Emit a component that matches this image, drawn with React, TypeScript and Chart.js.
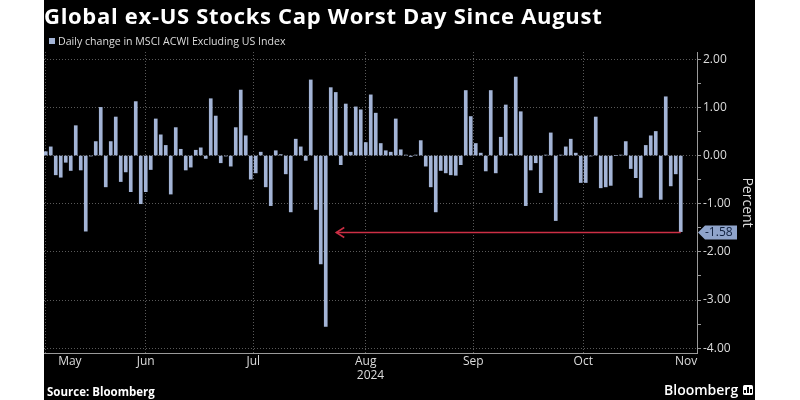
import React, { useEffect, useRef } from "react";
import { Chart, registerables } from "chart.js";

Chart.register(...registerables);

// ---- Data (trading days, May 20 – Nov 13, 2024) ----
const monthNames = ["May", "Jun", "Jul", "Aug", "Sep", "Oct", "Nov"];
const yearLabel = "2024";

const mayDays = [20, 21, 22, 23, 24, 27, 28, 29, 30, 31];
const junDays = [3, 4, 5, 6, 7, 10, 11, 12, 13, 14, 17, 18, 19, 20, 21, 24, 25, 26, 27, 28];
const julDays = [1, 2, 3, 4, 5, 8, 9, 10, 11, 12, 15, 16, 17, 18, 19, 22, 23, 24, 25, 26, 29, 30, 31];
const augDays = [1, 2, 5, 6, 7, 8, 9, 12, 13, 14, 15, 16, 19, 20, 21, 22, 23, 26, 27, 28, 29, 30];
const sepDays = [2, 3, 4, 5, 6, 9, 10, 11, 12, 13, 16, 17, 18, 19, 20, 23, 24, 25, 26, 27, 30];
const octDays = [1, 2, 3, 4, 7, 8, 9, 10, 11, 14, 15, 16, 17, 18, 21, 22, 23, 24, 25, 28, 29, 30, 31];
const novDays = [1, 4, 5, 6, 7, 8, 11, 12, 13];
const novTradingDaysInMonth = 21;

const mayValues = [0.08, 0.18, -0.40, -0.45, -0.14, -0.31, 0.62, -0.30, -1.57, -0.01];
const junValues = [0.29, 1.00, -0.65, 0.29, 0.80, -0.54, -0.34, -0.75, 1.12, -1.00, -0.75, -0.29, 0.76, 0.43, 0.21, -0.80, 0.58, 0.13, -0.30, -0.24];
const julValues = [0.11, 0.16, -0.06, 1.18, 0.82, -0.15, -0.01, -0.22, 0.58, 1.36, 0.41, -0.49, -0.36, 0.07, -0.65, -1.04, 0.10, 0.02, -0.38, -1.17, 0.34, 0.18, -0.10];
const augValues = [1.57, -1.12, -2.25, -3.55, 1.41, 1.31, -0.19, 1.07, 0.07, 1.01, 0.95, 0.27, 1.26, 0.88, 0.25, 0.10, 0.07, 0.76, 0.12, 0.01, -0.02, 0.01];
const sepValues = [0.31, -0.22, -0.65, -1.17, -0.31, -0.36, -0.40, -0.41, -0.19, 1.35, 0.81, 0.25, 0.05, -0.32, 1.35, -0.36, 0.38, 1.05, 0.03, 1.63, 0.91];
const octValues = [-1.04, -0.30, -0.15, -0.77, 0.01, 0.47, -1.35, 0.01, 0.18, 0.34, 0.05, -0.56, -0.56, -0.01, 0.80, -0.67, -0.65, -0.62, 0.00, 0.01, 0.29, -0.27, -0.46];
const novValues = [-0.87, 0.21, 0.41, 0.50, -0.91, 1.22, -0.63, -0.38, -1.58];

const yTickValues = [-4, -3, -2, -1, 0, 1, 2];

const monthDays = [mayDays, junDays, julDays, augDays, sepDays, octDays, novDays];
const monthValues = [mayValues, junValues, julValues, augValues, sepValues, octValues, novValues];

// Build flat series
const dates: string[] = [];
const values: number[] = [];
monthDays.forEach((days, m) => {
  days.forEach((d, k) => {
    dates.push(`${monthNames[m]} ${d}`);
    values.push(monthValues[m][k]);
  });
});
const monthStarts: number[] = [];
{
  let acc = 0;
  monthDays.forEach((d) => {
    monthStarts.push(acc);
    acc += d.length;
  });
}

const X_MIN = -0.35;
const X_MAX = 130.25;
const Y_MIN = -4.1;
const Y_MAX = 2.15;

const BAR = "#a3b4d6";
const GRID = "#5a5a5a";
const AXIS = "#9a9a9a";
const TEXT = "#dcdcdc";
const FONT = "'Open Sans', 'DejaVu Sans', sans-serif";

// month label positions: centre of each month span, clamped to axis
const monthEnds = monthStarts.slice(1).concat([monthStarts[6] + novTradingDaysInMonth]);
const labelTicks: { value: number; label: string | string[] }[] = monthNames.map((name, i) => {
  const lo = i === 0 ? X_MIN : monthStarts[i];
  const hi = monthEnds[i];
  let c = (lo + hi) / 2;
  c = Math.min(c, X_MAX - 2.2);
  return { value: c, label: name };
});
labelTicks.push({ value: (X_MIN + X_MAX) / 2, label: ["", yearLabel] });

const lastIndex = values.length - 1;
const lastValue = values[lastIndex];
let worstIndex = 0;
values.forEach((v, i) => {
  if (v < values[worstIndex]) worstIndex = i;
});

const annotPlugin = {
  id: "annot",
  afterDraw(chart: any) {
    const { ctx, chartArea } = chart;
    const xs = chart.scales.x;
    const ys = chart.scales.y;
    const y = Math.round(ys.getPixelForValue(lastValue)) + 0.5;
    const xEnd = xs.getPixelForValue(lastIndex);
    const xTip = xs.getPixelForValue(worstIndex) + 10.5;
    ctx.save();
    ctx.strokeStyle = "#cc2f45";
    ctx.lineWidth = 1.5;
    ctx.beginPath();
    ctx.moveTo(xTip, y);
    ctx.lineTo(xEnd, y);
    ctx.stroke();
    ctx.beginPath();
    ctx.moveTo(xTip + 8, y - 5);
    ctx.lineTo(xTip, y);
    ctx.lineTo(xTip + 8, y + 5);
    ctx.stroke();
    // value tag
    const x0 = chartArea.right;
    ctx.fillStyle = "#8fa4cb";
    ctx.beginPath();
    ctx.moveTo(x0 + 1, y);
    ctx.lineTo(x0 + 8, y - 7);
    ctx.lineTo(x0 + 40, y - 7);
    ctx.lineTo(x0 + 40, y + 7);
    ctx.lineTo(x0 + 8, y + 7);
    ctx.closePath();
    ctx.fill();
    ctx.fillStyle = "#0f1f3d";
    ctx.font = `12px ${FONT}`;
    ctx.textAlign = "left";
    ctx.textBaseline = "middle";
    ctx.fillText(lastValue.toFixed(2), x0 + 8, y + 0.5);
    ctx.restore();
  },
};

export default function App() {
  const ref = useRef<HTMLCanvasElement>(null);

  useEffect(() => {
    if (!ref.current) return;
    Chart.defaults.font.family = FONT;
    const chart = new Chart(ref.current, {
      type: "bar",
      data: {
        datasets: [
          {
            label: "Daily change in MSCI ACWI Excluding US Index",
            data: values.map((v, i) => ({ x: i, y: v })),
            backgroundColor: BAR,
            borderWidth: 0,
            barThickness: 3,
            xAxisID: "x",
            yAxisID: "y",
          },
        ],
      },
      options: {
        animation: false,
        responsive: false,
        devicePixelRatio: 1,
        layout: { padding: { left: 44, right: 45, top: 52, bottom: 0 } },
        plugins: { legend: { display: false }, tooltip: { enabled: false } },
        scales: {
          x: {
            type: "linear",
            position: "bottom",
            min: X_MIN,
            max: X_MAX,
            offset: false,
            grid: { display: false, drawTicks: false },
            border: { display: true, color: AXIS, width: 1 },
            ticks: {
              autoSkip: false,
              maxRotation: 0,
              minRotation: 0,
              padding: 2,
              color: TEXT,
              font: { size: 12, lineHeight: 1.15 },
              callback: (_v: any, i: number) => labelTicks[i] ? labelTicks[i].label : "",
            },
            afterBuildTicks: (s: any) => {
              s.ticks = labelTicks.map((t) => ({ value: t.value }));
            },
            afterFit: (s: any) => {
              s.height = 47;
            },
          },
          xg: {
            type: "linear",
            position: "bottom",
            min: X_MIN,
            max: X_MAX,
            offset: false,
            grid: { display: true, color: GRID, lineWidth: 1, drawTicks: false },
            border: { display: false, dash: [1, 2] },
            ticks: { display: false },
            afterBuildTicks: (s: any) => {
              s.ticks = monthStarts.slice(1).map((v) => ({ value: v }));
            },
            afterFit: (s: any) => {
              s.height = 0;
            },
          },
          y: {
            type: "linear",
            position: "right",
            min: Y_MIN,
            max: Y_MAX,
            grid: {
              color: (c: any) => (c.tick && Number.isInteger(c.tick.value) ? GRID : "rgba(0,0,0,0)"),
              tickColor: AXIS,
              tickLength: 4,
              lineWidth: 1,
            },
            border: { display: true, color: AXIS, width: 1, dash: [1, 2] },
            ticks: {
              padding: 2,
              color: TEXT,
              font: { size: 12 },
              callback: (v: any) => (Number.isInteger(v) ? Number(v).toFixed(2) : ""),
            },
            title: {
              display: true,
              text: "Percent",
              color: TEXT,
              font: { size: 14 },
              padding: 0,
            },
            afterBuildTicks: (s: any) => {
              const t: { value: number }[] = [];
              yTickValues.forEach((v, i) => {
                t.push({ value: v });
                if (i < yTickValues.length - 1) t.push({ value: v + 0.5 });
              });
              s.ticks = t;
            },
            afterFit: (s: any) => {
              s.width = 58;
            },
          },
        },
      },
      plugins: [annotPlugin],
    } as any);
    return () => chart.destroy();
  }, []);

  return (
    <div
      style={{
        position: "fixed",
        left: 0,
        top: 0,
        width: 800,
        height: 400,
        background: "#fff",
        overflow: "hidden",
        fontFamily: FONT,
      }}
    >
      <div style={{ position: "absolute", left: 44, top: 0, width: 711, height: 400, background: "#000" }} />
      <canvas ref={ref} width={800} height={400} style={{ position: "absolute", left: 0, top: 0 }} />
      <div
        style={{
          position: "absolute",
          left: 44,
          top: 0,
          color: "#fff",
          fontWeight: 700,
          fontSize: 22,
          letterSpacing: "0.7px",
          lineHeight: "30px",
          whiteSpace: "nowrap",
        }}
      >
        Global ex-US Stocks Cap Worst Day Since August
      </div>
      <div
        style={{
          position: "absolute",
          left: 49,
          top: 33,
          height: 16,
          display: "flex",
          alignItems: "center",
          color: TEXT,
          fontSize: 10.6,
          whiteSpace: "nowrap",
        }}
      >
        <span style={{ display: "inline-block", width: 6, height: 6, background: BAR, marginRight: 3 }} />
        <span>Daily change in MSCI ACWI Excluding US Index</span>
      </div>
      <div
        style={{
          position: "absolute",
          left: 47,
          top: 384,
          color: "#fff",
          fontWeight: 700,
          fontSize: 11.5,
          lineHeight: "16px",
          whiteSpace: "nowrap",
        }}
      >
        Source: Bloomberg
      </div>
      <div
        style={{
          position: "absolute",
          left: 664,
          top: 380,
          color: "#fff",
          fontWeight: 600,
          fontSize: 14,
          lineHeight: "19px",
          whiteSpace: "nowrap",
          display: "flex",
          alignItems: "center",
        }}
      >
        <span>Bloomberg</span>
        <span
          style={{
            display: "inline-flex",
            alignItems: "flex-end",
            justifyContent: "center",
            gap: 1,
            width: 10,
            height: 10,
            marginLeft: 5,
            background: "#fff",
            borderRadius: 1.5,
            padding: "2px 1px",
            boxSizing: "border-box",
          }}
        >
          <span style={{ width: 2, height: 3, background: "#000" }} />
          <span style={{ width: 2, height: 6, background: "#000" }} />
          <span style={{ width: 2, height: 4, background: "#000" }} />
        </span>
      </div>
    </div>
  );
}
